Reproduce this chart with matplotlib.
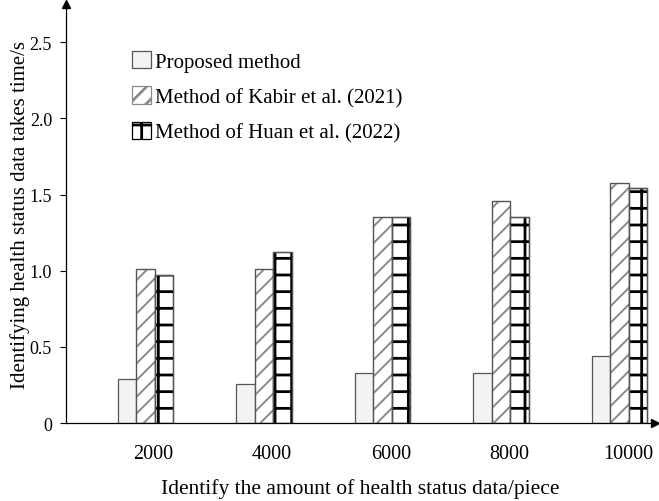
import numpy as np
import matplotlib
matplotlib.use('Agg')
import matplotlib.pyplot as plt

# data
amounts = ['2000', '4000', '6000', '8000', '10000']
proposed = [0.29, 0.26, 0.33, 0.33, 0.44]
kabir = [1.01, 1.01, 1.355, 1.46, 1.575]
huan = [0.97, 1.12, 1.355, 1.355, 1.54]
labels = ['Proposed method', 'Method of Kabir et al. (2021)', 'Method of Huan et al. (2022)']

plt.rcParams['font.family'] = ['Liberation Serif', 'DejaVu Serif']
plt.rcParams['font.size'] = 13

fig = plt.figure(figsize=(6.59, 5.02), dpi=100)
ax = fig.add_axes([0.100, 0.155, 0.894, 0.835])

x = np.arange(len(amounts))
w = 0.156

plt.rcParams['hatch.linewidth'] = 1.0
b1 = ax.bar(x - w, proposed, w, color='#f3f3f3', edgecolor='#555555', linewidth=0.9, label=labels[0])
plt.rcParams['hatch.linewidth'] = 1.4
b2 = ax.bar(x, kabir, w, color='white', edgecolor='#8a8a8a', hatch='//', linewidth=0.9, label=labels[1])
ax.bar(x, kabir, w, color='none', edgecolor='#555555', linewidth=0.9)
plt.rcParams['hatch.linewidth'] = 2.0
b3 = ax.bar(x + w, huan, w, color='white', edgecolor='black', hatch='+', linewidth=0.9, label=labels[2])
# thin grey outline over the Huan bars
ax.bar(x + w, huan, w, color='none', edgecolor='#555555', linewidth=0.9)

ax.set_xlim(-0.67, 4.3)
ax.set_ylim(0, 2.75)
ax.set_yticks([0, 0.5, 1.0, 1.5, 2.0, 2.5])
ax.set_yticklabels(['0', '0.5', '1.0', '1.5', '2.0', '2.5'])
ax.set_xticks(x + 0.07)
ax.set_xticklabels(amounts, fontsize=14.5)
ax.tick_params(axis='x', length=0, pad=15)
ax.tick_params(axis='y', length=4, width=0.8, direction='out', pad=6)

for s in ['top', 'right']:
    ax.spines[s].set_visible(False)
for s in ['left', 'bottom']:
    ax.spines[s].set_linewidth(0.9)

# arrow heads on the axes
ax.plot(1, 0, '>k', markersize=6, transform=ax.transAxes, clip_on=False)
ax.plot(0, 1, '^k', markersize=6, transform=ax.transAxes, clip_on=False)

ax.set_xlabel('Identify the amount of health status data/piece', fontsize=15.5, labelpad=11)
ax.set_ylabel('Identifying health status data takes time/s', fontsize=15, labelpad=0)

fig.legend(handles=[b1, b2, b3], labels=labels, loc='upper left',
           bbox_to_anchor=(0.200, 0.897), frameon=False, borderpad=0,
           borderaxespad=0, fontsize=15, handlelength=0.92, handleheight=0.92,
           handletextpad=0.2, labelspacing=0.7)

plt.savefig('out.png', dpi=100)
